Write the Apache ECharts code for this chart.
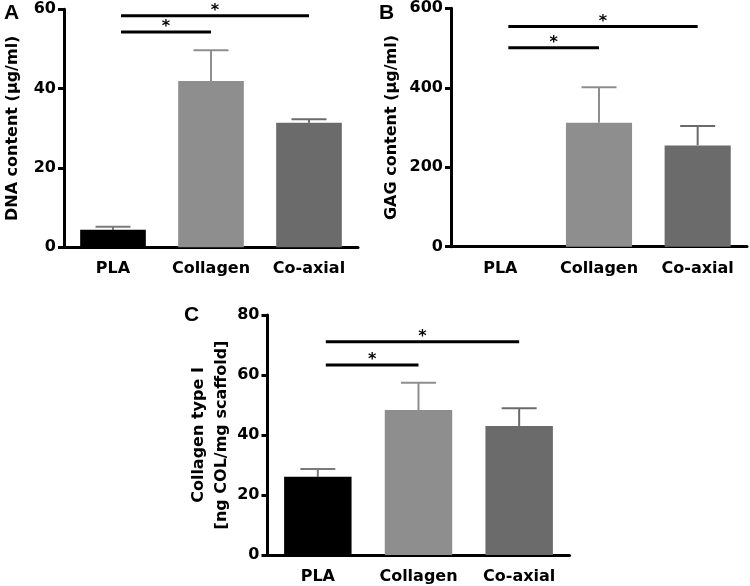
<!DOCTYPE html>
<html>
<head>
<meta charset="utf-8">
<script src="https://cdn.jsdelivr.net/npm/echarts@6/dist/echarts.min.js"></script>
<style>html,body{margin:0;padding:0;background:#fff;}#c{width:750px;height:586px;}</style>
</head>
<body>
<div id="c"></div>
<script>
// ---- data ----
const categories = ['PLA', 'Collagen', 'Co-axial'];
const barColors = ['#000000', '#8e8e8e', '#6b6b6b'];
const errColors = ['#7a7a7a', '#8e8e8e', '#6b6b6b'];

const dnaMean = [4.4, 41.9, 31.4];
const dnaErr = [0.8, 7.8, 0.9];
const dnaTicks = [0, 20, 40, 60];
const dnaSig = [[0, 2, 58.4], [0, 1, 54.3]];

const gagMean = [0, 312, 255];
const gagErr = [0, 89, 49];
const gagTicks = [0, 200, 400, 600];
const gagSig = [[0, 2, 554], [0, 1, 501]];

const colMean = [26.1, 48.3, 43.0];
const colErr = [2.6, 9.1, 5.9];
const colTicks = [0, 20, 40, 60, 80];
const colSig = [[0, 2, 71.1], [0, 1, 63.3]];

const FONT = 'DejaVu Sans';

const grids = [
  {left: 62, top: 9.3, width: 296, height: 238},
  {left: 451, top: 8.3, width: 296, height: 238.4},
  {left: 267.5, top: 315, width: 302, height: 240}
];
const panels = [
  {mean: dnaMean, err: dnaErr, ticks: dnaTicks, sig: dnaSig, name: 'DNA content (µg/ml)', gap: 40},
  {mean: gagMean, err: gagErr, ticks: gagTicks, sig: gagSig, name: 'GAG content (µg/ml)', gap: 48},
  {mean: colMean, err: colErr, ticks: colTicks, sig: colSig, name: 'Collagen type I\n[ng COL/mg scaffold]', gap: 34}
];

const xAxis = [], yAxis = [], series = [];
panels.forEach((p, i) => {
  xAxis.push({
    type: 'category', gridIndex: i, data: categories,
    axisLine: {lineStyle: {color: '#000', width: 3}},
    axisTick: {alignWithLabel: true, length: 8, lineStyle: {color: '#000', width: 3}},
    axisLabel: {interval: 0, color: '#000', fontFamily: FONT, fontWeight: 'bold', fontSize: 16, margin: 14}
  });
  const t = p.ticks;
  yAxis.push({
    type: 'value', gridIndex: i, min: t[0], max: t[t.length - 1], interval: t[1] - t[0],
    splitLine: {show: false},
    axisLine: {show: true, lineStyle: {color: '#000', width: 3}},
    axisTick: {show: true, length: 6, lineStyle: {color: '#000', width: 3}},
    axisLabel: {color: '#000', fontFamily: FONT, fontWeight: 'bold', fontSize: 16, margin: 8},
    name: p.name, nameLocation: 'middle', nameGap: p.gap, nameRotate: 90,
    nameTextStyle: {color: '#000', fontFamily: FONT, fontWeight: 'bold', fontSize: 16, lineHeight: 23}
  });
  series.push({
    type: 'bar', xAxisIndex: i, yAxisIndex: i, barWidth: '67%',
    data: p.mean.map((v, k) => ({value: v, itemStyle: {color: barColors[k]}})),
    silent: true
  });
  series.push({
    type: 'custom', xAxisIndex: i, yAxisIndex: i, silent: true,
    data: p.mean.map((v, k) => [k, v, p.err[k]]),
    encode: {x: 0, y: 1},
    renderItem: function (params, api) {
      const k = api.value(0), v = api.value(1), e = api.value(2);
      if (!e) return null;
      const a = api.coord([k, v]);
      const b = api.coord([k, v + e]);
      const hw = 17.5;
      const st = {stroke: errColors[k], lineWidth: 2};
      return {type: 'group', children: [
        {type: 'line', shape: {x1: a[0], y1: a[1], x2: b[0], y2: b[1]}, style: st},
        {type: 'line', shape: {x1: b[0] - hw, y1: b[1], x2: b[0] + hw, y2: b[1]}, style: st}
      ]};
    }
  });
  series.push({
    type: 'custom', xAxisIndex: i, yAxisIndex: i, silent: true, clip: false,
    data: p.sig,
    encode: {x: 0, y: 2},
    renderItem: function (params, api) {
      const f = api.value(0), t2 = api.value(1), y = api.value(2);
      const a = api.coord([f, y]);
      const b = api.coord([t2, y]);
      const x1 = a[0] + 8, x2 = b[0];
      return {type: 'group', children: [
        {type: 'line', shape: {x1: x1, y1: a[1], x2: x2, y2: a[1]}, style: {stroke: '#000', lineWidth: 3}},
        {type: 'text', style: {text: '*', x: (x1 + x2) / 2, y: a[1] + 3, align: 'center', verticalAlign: 'bottom',
          font: 'bold 16px "DejaVu Sans"', fill: '#000'}}
      ]};
    }
  });
});

const chart = echarts.init(document.getElementById('c'), null, {renderer: 'canvas'});
chart.setOption({
  animation: false,
  backgroundColor: '#fff',
  grid: grids,
  xAxis: xAxis,
  yAxis: yAxis,
  series: series,
  graphic: [
    {type: 'text', left: 4, top: 3, style: {text: 'A', font: 'bold 21px "Liberation Sans"', fill: '#000'}},
    {type: 'text', left: 379, top: 3, style: {text: 'B', font: 'bold 21px "Liberation Sans"', fill: '#000'}},
    {type: 'text', left: 184, top: 305, style: {text: 'C', font: 'bold 21px "Liberation Sans"', fill: '#000'}}
  ]
});
</script>
</body>
</html>
